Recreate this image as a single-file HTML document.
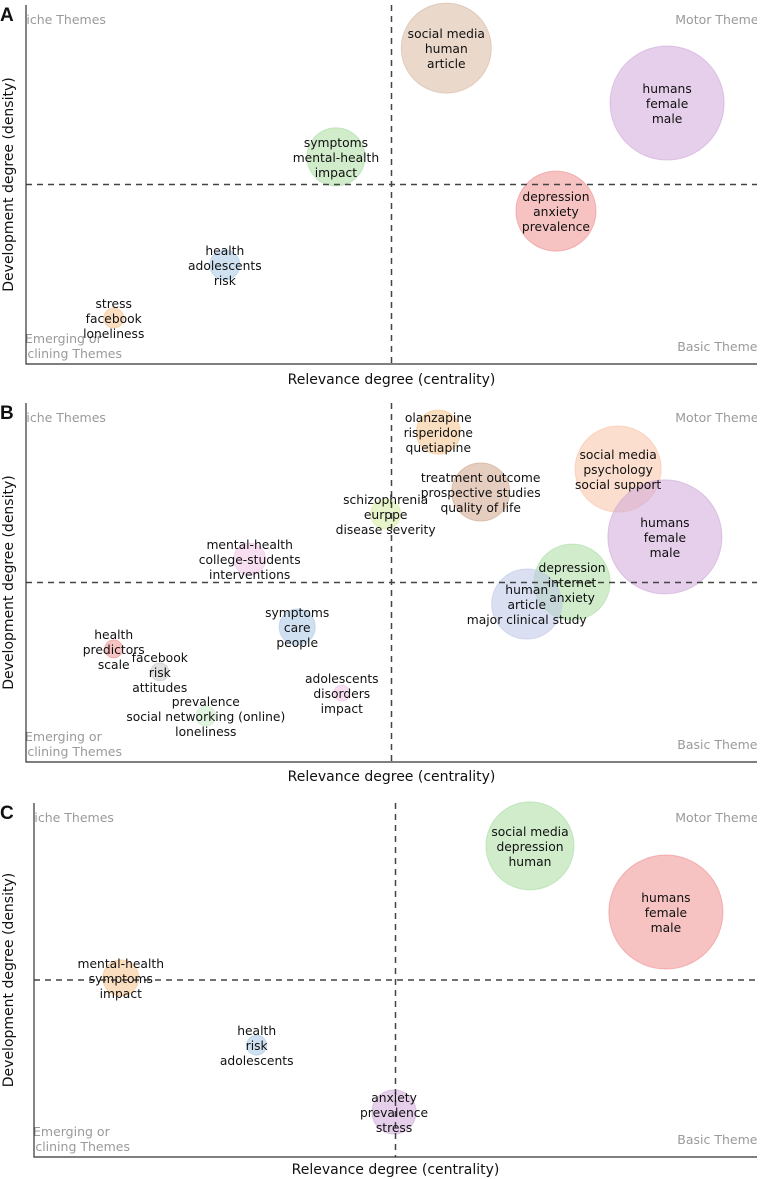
<!DOCTYPE html>
<html><head><meta charset="utf-8">
<style>
html,body{margin:0;padding:0;background:#fff;}
svg{display:block;font-family:"DejaVu Sans","Liberation Sans",sans-serif;}
.lab{font-size:12.3px;fill:#111;text-anchor:middle;}
.corner{font-size:12.5px;fill:#9a9a9a;}
.ax{font-size:14px;fill:#111;}
.pl{font-size:19px;font-weight:bold;fill:#111;font-family:"Liberation Sans",sans-serif;}
</style></head>
<body>
<svg id="chart" width="761" height="1179" viewBox="0 0 761 1179"></svg>
<script>
// Panel A data
const aLabels = [["social media","human","article"],["humans","female","male"],["symptoms","mental-health","impact"],["depression","anxiety","prevalence"],["health","adolescents","risk"],["stress","facebook","loneliness"]];
const aX = [57.5, 87.7, 42.4, 72.5, 27.2, 12.0];
const aY = [88.0, 72.7, 57.7, 42.6, 27.6, 12.8];
const aSize = [45, 57, 29, 40, 15, 10];
const aColor = ["#d9b8a0","#cfa8d9","#a9dca1","#ee8f8f","#a7c6e6","#f6c38d"];
// Panel B data
const bLabels = [["olanzapine","risperidone","quetiapine"],["treatment outcome","prospective studies","quality of life"],["schizophrenia","eurppe","disease severity"],["social media","psychology","social support"],["humans","female","male"],["depression","internet","anxiety"],["human","article","major clinical study"],["mental-health","college-students","interventions"],["symptoms","care","people"],["health","predictors","scale"],["facebook","risk","attitudes"],["prevalence","social networking (online)","loneliness"],["adolescents","disorders","impact"]];
const bX = [56.4, 62.2, 49.2, 81.0, 87.4, 74.7, 68.5, 30.6, 37.1, 12.0, 18.3, 24.6, 43.2];
const bY = [91.9, 75.2, 69.1, 81.6, 62.7, 50.1, 44.0, 56.5, 37.6, 31.5, 25.1, 12.8, 19.2];
const bSize = [22, 29, 15, 43, 57, 38, 35, 16, 18, 9, 9, 10, 8];
const bColor = ["#f6c38d","#cfa68a","#d6eda0","#f9c2a6","#cfa8d9","#a9dca1","#bcc6e6","#f2c3e6","#a7c6e6","#ee8f8f","#c8c8c8","#c9ebc6","#f2c3e6"];
// Panel C data
const cLabels = [["social media","depression","human"],["humans","female","male"],["mental-health","symptoms","impact"],["health","risk","adolescents"],["anxiety","prevalence","stress"]];
const cX = [68.6, 87.4, 12.0, 30.8, 49.8];
const cY = [87.9, 69.2, 50.6, 31.6, 12.7];
const cSize = [44, 57, 18, 10, 22];
const cColor = ["#a9dca1","#ee8f8f","#f6c38d","#a7c6e6","#cfa8d9"];

const NS="http://www.w3.org/2000/svg";
const svg=document.getElementById('chart');
function mk(tag,attrs,parent){const e=document.createElementNS(NS,tag);for(const k in attrs)e.setAttribute(k,attrs[k]);(parent||svg).appendChild(e);return e;}

function panel(id,letter,L,R,T,B,xOff,labels,xs,ys,sizes,colors){
  const g=mk('g',{});
  
  
  const sx=v=>L+(R-L)*v/100, sy=v=>B-(B-T)*v/100;
  const cp=mk('clipPath',{id:'clip'+id},g);
  mk('rect',{x:L,y:T-10,width:R-L,height:B-T+10},cp);
  const inner=mk('g',{'clip-path':'url(#clip'+id+')'},g);
  const c1=mk('text',{x:L-9,y:T+19,class:'corner'},inner);c1.textContent='Niche Themes';
  
  const c2=mk('text',{x:R+8,y:T+19,class:'corner','text-anchor':'end'},inner);c2.textContent='Motor Themes';
  
  const c3=mk('text',{x:L-1,y:B-21,class:'corner'},inner);c3.textContent='Emerging or';
  
  const c4=mk('text',{x:L-16,y:B-6,class:'corner'},inner);c4.textContent='Declining Themes';
  
  const c5=mk('text',{x:R+7,y:B-13,class:'corner','text-anchor':'end'},inner);c5.textContent='Basic Themes';
  
  for(let i=0;i<xs.length;i++){
    const c=mk('circle',{cx:sx(xs[i]),cy:sy(ys[i]),r:sizes[i],fill:colors[i],'fill-opacity':0.55,stroke:colors[i],'stroke-opacity':0.6},inner);
    
    
  }
  const vl=mk('line',{x1:sx(50),x2:sx(50),y1:T,y2:B,stroke:'#444','stroke-width':1.5,'stroke-dasharray':'6,5'},g);
  
  const hl=mk('line',{x1:L,x2:R,y1:sy(50),y2:sy(50),stroke:'#444','stroke-width':1.5,'stroke-dasharray':'6,5'},g);
  
  for(let i=0;i<xs.length;i++){
    const t=mk('text',{class:'lab',x:sx(xs[i]),y:sy(ys[i])-10},g);
    
    
    labels[i].forEach((s,j)=>{const ts=mk('tspan',{x:sx(xs[i]),dy:j?15:0},t);ts.textContent=s;});
  }
  const ax=mk('path',{d:`M${L} ${T} V${B} H${R}`,fill:'none',stroke:'#333','stroke-width':1.2},g);
  
  const xt=mk('text',{x:(L+R)/2,y:B+xOff,class:'ax','text-anchor':'middle'},g);xt.textContent='Relevance degree (centrality)';
  
  const yt=mk('text',{x:0,y:0,class:'ax','text-anchor':'middle',transform:`translate(13,${(T+B)/2}) rotate(-90)`},g);yt.textContent='Development degree (density)';
  
  const pl=mk('text',{x:0,y:T+16,class:'pl'},g);pl.textContent=letter;
  
}
panel('a','A',26,757,5,364,20,aLabels,aX,aY,aSize,aColor);
panel('b','B',26,757,403,762,19,bLabels,bX,bY,bSize,bColor);
panel('c','C',34,757,803,1157,17,cLabels,cX,cY,cSize,cColor);
</script>
</body></html>
